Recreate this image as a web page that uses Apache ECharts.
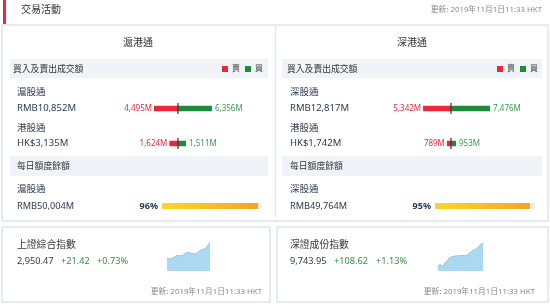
<!DOCTYPE html>
<html>
<head>
<meta charset="utf-8">
<script src="https://cdn.jsdelivr.net/npm/echarts@6/dist/echarts.min.js"></script>
<style>
  html, body { margin: 0; padding: 0; background: #fff; }
  #chart { width: 550px; height: 305px; }
</style>
</head>
<body>
<div id="chart"></div>
<script>
const panelNames = ["滬港通", "深港通"];
const tradeRows = [["滬股通", "港股通"], ["深股通", "港股通"]];
const tradeTotals = [["RMB10,852M", "HK$3,135M"], ["RMB12,817M", "HK$1,742M"]];
const sellValues = [[4495, 1624], [5342, 789]];
const buyValues = [[6356, 1511], [7476, 953]];
const quotaNames = ["滬股通", "深股通"];
const quotaBalance = ["RMB50,004M", "RMB49,764M"];
const quotaPct = [96, 95];
const indexNames = ["上證綜合指數", "深證成份指數"];
const indexLast = ["2,950.47", "9,743.95"];
const indexChange = ["+21.42", "+108.62"];
const indexPct = ["+0.73%", "+1.13%"];
const sseIntraday = [2927.9, 2926.0, 2926.9, 2926.9, 2928.8, 2930.2, 2931.7, 2932.6, 2931.2, 2933.5,
  2932.6, 2935.0, 2935.9, 2936.4, 2935.0, 2935.9, 2934.5, 2933.5, 2934.0, 2937.3,
  2938.7, 2939.7, 2939.2, 2941.1, 2943.0, 2946.8, 2950.5];
const szseIntraday = [9653.8, 9665.1, 9660.1, 9656.3, 9668.8, 9675.1, 9681.4, 9690.1, 9693.9, 9693.9,
  9692.6, 9696.4, 9700.1, 9696.4, 9702.6, 9697.6, 9692.6, 9696.4, 9700.1, 9706.4,
  9712.7, 9716.4, 9718.9, 9722.7, 9727.7, 9735.2, 9740.2, 9744.0];
const updatedText = "更新: 2019年11月1日11:33 HKT";

const FONT = '"Noto Sans", "Noto Sans CJK TC", sans-serif';
const RED = "#e8283d";
const GREEN = "#1f8a3b";
const DARK = "#2f3b4c";

const chart = echarts.init(document.getElementById("chart"));

// per-panel positions
const layout = [
  { textX: 17, bandX: 10, bandW: 258, band1X: 13, center: 178, scale: 0.00534, quotaX: 162, sparkX: 167, sparkW: 43, headX: 138, chgX: 61, pctX: 97, updX: 262, legendX: 222 },
  { textX: 290, bandX: 282, bandW: 260, band1X: 287, center: 451, scale: 0.00523, quotaX: 435, sparkX: 438, sparkW: 45, headX: 412, chgX: 334, pctX: 376, updX: 535, legendX: 497 }
];

function txt(x, y, text, size, fill, align, weight) {
  return {
    type: "text", x: x, y: y, z: 5,
    style: {
      text: text, fill: fill, textAlign: align || "left", textVerticalAlign: "middle",
      font: (weight || "normal") + " " + size + "px " + FONT
    }
  };
}

const graphics = [
  // top header
  { type: "rect", shape: { x: 3, y: 0, width: 3, height: 24 }, style: { fill: RED } },
  txt(21, 10, "交易活動", 10, "#333"),
  txt(542, 10, updatedText, 7.8, "#888", "right"),
  // main panel
  { type: "rect", shape: { x: 2, y: 25, width: 546, height: 196 }, style: { fill: "#fff", stroke: "#dfe5ec", lineWidth: 1.5 }, z: -2 },
  { type: "line", shape: { x1: 275.5, y1: 25, x2: 275.5, y2: 217 }, style: { stroke: "#e3e8ee", lineWidth: 1.5 } },
  // lower cards
  { type: "rect", shape: { x: 2, y: 227, width: 268, height: 75 }, style: { fill: "#fff", stroke: "#dfe5ec", lineWidth: 1.5 }, z: -2 },
  { type: "rect", shape: { x: 277, y: 227, width: 271, height: 75 }, style: { fill: "#fff", stroke: "#dfe5ec", lineWidth: 1.5 }, z: -2 }
];

layout.forEach((p, i) => {
  graphics.push(
    txt(p.headX, 43, panelNames[i], 10, "#333", "center"),
    { type: "rect", shape: { x: p.bandX, y: 59, width: p.bandW, height: 19 }, style: { fill: "#f0f3f7" }, z: -1 },
    txt(p.band1X, 69, "買入及賣出成交額", 8.8, "#333"),
    txt(p.textX, 92, tradeRows[i][0], 9.5, DARK),
    txt(p.textX, 108, tradeTotals[i][0], 9.5, DARK),
    txt(p.textX, 128, tradeRows[i][1], 9.5, DARK),
    txt(p.textX, 143.5, tradeTotals[i][1], 9.5, DARK),
    { type: "rect", shape: { x: p.bandX, y: 156, width: p.bandW, height: 20 }, style: { fill: "#f0f3f7" }, z: -1 },
    txt(p.textX, 166, "每日額度餘額", 8.8, "#333"),
    txt(p.textX, 189, quotaNames[i], 9.5, DARK),
    txt(p.textX, 206, quotaBalance[i], 9.2, DARK),
    txt(p.textX, 245, indexNames[i], 9.8, "#333"),
    txt(p.textX, 261, indexLast[i], 9.2, DARK),
    txt(p.chgX, 261, indexChange[i], 9.2, "#3a9148"),
    txt(p.pctX, 261, indexPct[i], 9.2, "#3a9148"),
    txt(p.updX, 292, updatedText, 7.8, "#888", "right")
  );
});

const grids = [];
const xAxes = [];
const yAxes = [];
const series = [];
const legends = [];
const half = 8000;

layout.forEach((p, i) => {
  // buy / sell bars
  const w = half * p.scale;
  let gi = grids.length;
  grids.push({ left: p.center - w, width: 2 * w, top: 91, height: 70 });
  xAxes.push({ gridIndex: gi, type: "value", min: -half, max: half, show: false });
  yAxes.push({ gridIndex: gi, type: "category", data: tradeRows[i], inverse: true, show: false });
  series.push(
    {
      name: "賣", type: "bar", xAxisIndex: gi, yAxisIndex: gi, barWidth: 5.5, barGap: "-100%",
      data: sellValues[i].map(v => -v), itemStyle: { color: RED },
      label: { show: true, position: "left", distance: 2, color: RED, fontSize: 8, fontFamily: FONT,
        formatter: d => Math.abs(d.value).toLocaleString("en-US") + "M" }
    },
    {
      name: "買", type: "bar", xAxisIndex: gi, yAxisIndex: gi, barWidth: 5.5, barGap: "-100%",
      data: buyValues[i], itemStyle: { color: GREEN },
      label: { show: true, position: "right", distance: 3, color: "#3d9a50", fontSize: 8, fontFamily: FONT,
        formatter: d => d.value.toLocaleString("en-US") + "M" }
    },
    {
      type: "scatter", xAxisIndex: gi, yAxisIndex: gi, symbol: "rect", symbolSize: [1.5, 11], z: 5,
      data: tradeRows[i].map((r, k) => [0, k]), itemStyle: { color: "#333" }, silent: true
    }
  );
  legends.push({
    data: ["賣", "買"], left: p.legendX, top: 65, icon: "rect", itemWidth: 6, itemHeight: 6,
    itemGap: 5, selectedMode: false, padding: 0,
    textStyle: { fontSize: 8, color: "#444", fontFamily: FONT, padding: [0, 0, 0, -1] }
  });

  // daily quota progress
  gi = grids.length;
  grids.push({ left: p.quotaX, width: 100, top: 200, height: 12 });
  xAxes.push({ gridIndex: gi, type: "value", min: 0, max: 100, show: false });
  yAxes.push({
    gridIndex: gi, type: "category", data: [quotaPct[i] + "%"], axisLine: { show: false }, axisTick: { show: false },
    axisLabel: { margin: 4, fontSize: 9, fontWeight: "bold", color: "#253a5e", fontFamily: FONT }
  });
  series.push({
    type: "bar", xAxisIndex: gi, yAxisIndex: gi, barWidth: 6, data: [quotaPct[i]],
    showBackground: true, backgroundStyle: { color: "#ececec" },
    itemStyle: { color: new echarts.graphic.LinearGradient(0, 0, 1, 0, [
      { offset: 0, color: "#fdd52a" }, { offset: 1, color: "#f5a623" }]) }
  });

  // intraday sparkline
  const vals = i === 0 ? sseIntraday : szseIntraday;
  gi = grids.length;
  grids.push({ left: p.sparkX, width: p.sparkW, top: i === 0 ? 242 : 243, height: i === 0 ? 29 : 28 });
  xAxes.push({ gridIndex: gi, type: "category", boundaryGap: false, data: vals.map((v, k) => k), show: false });
  yAxes.push({ gridIndex: gi, type: "value", min: i === 0 ? 2910 : 9640, max: i === 0 ? 2950.5 : 9744, show: false });
  series.push({
    type: "line", xAxisIndex: gi, yAxisIndex: gi, data: vals, symbol: "none", smooth: false,
    lineStyle: { color: "#8fc8ea", width: 1 }, areaStyle: { color: "#acd8f1", opacity: 1 }
  });
});

chart.setOption({
  animation: false,
  textStyle: { fontFamily: FONT },
  color: [RED, GREEN],
  legend: legends,
  grid: grids,
  xAxis: xAxes,
  yAxis: yAxes,
  series: series,
  graphic: graphics
});

window.addEventListener("resize", () => chart.resize());
</script>
</body>
</html>
